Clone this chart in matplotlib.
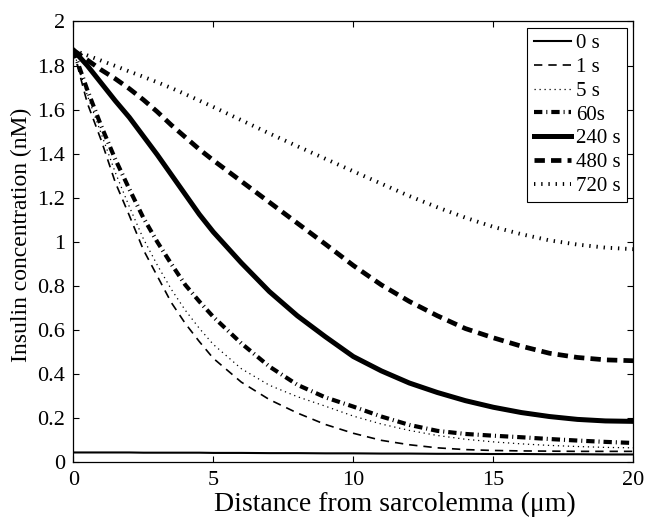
import matplotlib
matplotlib.use("Agg")
from matplotlib import pyplot as plt

plt.rcParams['font.family'] = ['Liberation Serif', 'DejaVu Serif']

# distance from sarcolemma (um)
x = [0, 0.5, 1, 1.5, 2, 2.5, 3, 3.5, 4, 4.5, 5,
     6, 7, 8, 9, 10, 11, 12, 13, 14, 15, 16, 17, 18, 19, 20]

# insulin concentration (nM) at each time
c_0s = [0.045, 0.045, 0.045, 0.045, 0.045, 0.044, 0.044, 0.044, 0.044, 0.044, 0.043,
        0.043, 0.042, 0.042, 0.041, 0.041, 0.040, 0.040, 0.039, 0.039, 0.038, 0.038,
        0.037, 0.037, 0.036, 0.036]
c_1s = [1.87, 1.63, 1.46, 1.27, 1.12, 0.965, 0.845, 0.725, 0.63, 0.548, 0.472,
        0.364, 0.285, 0.224, 0.172, 0.132, 0.100, 0.080, 0.066, 0.058, 0.054, 0.052,
        0.051, 0.050, 0.050, 0.050]
c_5s = [1.87, 1.665, 1.49, 1.315, 1.16, 1.015, 0.895, 0.785, 0.69, 0.608, 0.535,
        0.425, 0.35, 0.298, 0.255, 0.21, 0.174, 0.145, 0.122, 0.105, 0.093, 0.084,
        0.077, 0.072, 0.068, 0.066]
c_60s = [1.87, 1.69, 1.525, 1.375, 1.24, 1.11, 1.0, 0.9, 0.805, 0.73, 0.66,
         0.54, 0.435, 0.352, 0.295, 0.253, 0.208, 0.17, 0.143, 0.129, 0.121, 0.114,
         0.106, 0.099, 0.093, 0.088]
c_240s = [1.87, 1.8, 1.72, 1.64, 1.565, 1.48, 1.395, 1.305, 1.215, 1.125, 1.045,
          0.905, 0.775, 0.665, 0.57, 0.48, 0.415, 0.36, 0.317, 0.28, 0.25, 0.226,
          0.208, 0.195, 0.188, 0.186]
c_480s = [1.87, 1.825, 1.78, 1.74, 1.695, 1.645, 1.59, 1.53, 1.475, 1.42, 1.37,
          1.275, 1.18, 1.085, 0.99, 0.893, 0.805, 0.73, 0.665, 0.607, 0.565, 0.527,
          0.495, 0.476, 0.465, 0.461]
c_720s = [1.87, 1.846, 1.822, 1.798, 1.773, 1.749, 1.724, 1.698, 1.67, 1.641, 1.612,
          1.552, 1.492, 1.434, 1.377, 1.32, 1.264, 1.208, 1.157, 1.11, 1.068, 1.035,
          1.007, 0.988, 0.974, 0.967]

labels = ['0 s', '1 s', '5 s', '60s', '240 s', '480 s', '720 s']
x_ticks = [0, 5, 10, 15, 20]
y_ticks = [0, 0.2, 0.4, 0.6, 0.8, 1, 1.2, 1.4, 1.6, 1.8, 2]
y_tick_labels = ['0', '0.2', '0.4', '0.6', '0.8', '1', '1.2', '1.4', '1.6', '1.8', '2']

fig = plt.figure(figsize=(6.45, 5.21), dpi=100)
ax = fig.add_axes([0.1136, 0.1125, 0.8684, 0.8464])

styles = [
    dict(ls='-', lw=1.5),
    dict(ls=(0, (5.0, 3.6)), lw=1.2),
    dict(ls=(0, (1.0, 3.0)), lw=0.9),
    dict(ls=(0, (2.0, 0.95, 0.25, 0.95)), lw=3.0),
    dict(ls='-', lw=3.6),
    dict(ls=(0, (2.2, 1.3)), lw=3.4),
    dict(ls=(0, (0.35, 1.5)), lw=2.8),
]
series = [c_0s, c_1s, c_5s, c_60s, c_240s, c_480s, c_720s]
for vals, lab, st in zip(series, labels, styles):
    ax.plot(x, vals, color='k', label=lab, dash_capstyle='butt', **st)

ax.set_xlim(0, 20)
ax.set_ylim(0, 2)
ax.set_xticks(x_ticks)
ax.set_xticklabels([str(t) for t in x_ticks])
ax.set_yticks(y_ticks)
ax.set_yticklabels(y_tick_labels)
ax.tick_params(direction='in', length=4, width=0.8, top=True, right=True,
               labelsize=16, pad=6)
for s in ax.spines.values():
    s.set_linewidth(0.9)

ax.set_xlabel('Distance from sarcolemma (\u03bcm)', fontsize=20)
ax.xaxis.set_label_coords(0.574, -0.066)
ax.set_ylabel('Insulin concentration (nM)', fontsize=17)
ax.yaxis.set_label_coords(-0.074, 0.516)

leg = ax.legend(loc='upper right', fontsize=15, frameon=True, fancybox=False,
                edgecolor='k', framealpha=1, handlelength=1.8, handletextpad=0.25,
                labelspacing=0.2, borderpad=0.3, borderaxespad=0.3)
leg.get_frame().set_linewidth(0.8)

fig.savefig('out.png', dpi=100)
